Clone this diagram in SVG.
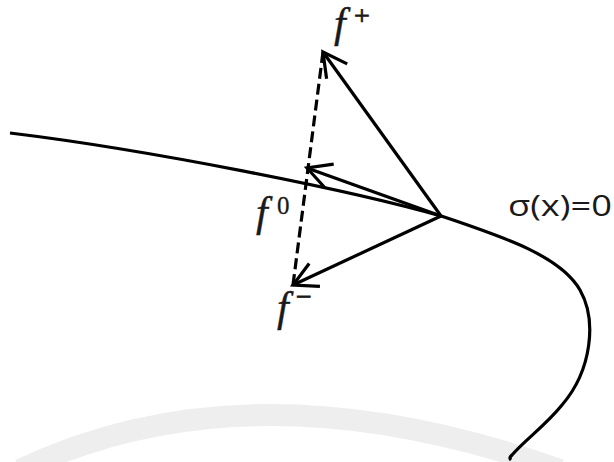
<svg xmlns="http://www.w3.org/2000/svg" width="614" height="462" viewBox="0 0 614 462">
  <style>
    .ln { fill: none; stroke: #000; stroke-width: 3.2; }
    .dash { fill: none; stroke: #000; stroke-width: 3.2; stroke-dasharray: 11 5; }
    .mf { font-family: "Liberation Serif", "DejaVu Serif", serif; font-style: italic; font-size: 42px; fill: #1a1a1a; stroke: #1a1a1a; stroke-width: 0.4; }
    .sup { font-family: "Liberation Serif", "DejaVu Serif", serif; font-size: 25px; fill: #1a1a1a; stroke: #1a1a1a; stroke-width: 0.3; }
    .op { font-family: "Liberation Serif", "DejaVu Serif", serif; font-size: 28px; fill: #1a1a1a; stroke: #1a1a1a; stroke-width: 0.8; }
    .lbl { font-family: "Open Sans", "Liberation Sans", sans-serif; font-size: 30px; fill: #1a1a1a; }
    .wm { fill: none; stroke: #eeeeee; stroke-width: 22; }
  </style>
  <defs>
    <marker id="vhead" markerUnits="userSpaceOnUse" viewBox="-28 -16 32 32" refX="0" refY="0" markerWidth="32" markerHeight="32" orient="auto">
      <path d="M-23.8,-12.7 L0,0 L-23.8,12.7" fill="none" stroke="#000" stroke-width="3.2"/>
    </marker>
  </defs>
  <rect width="614" height="462" fill="#fff"/>
  <g id="watermark">
    <path class="wm" d="M20,470 Q250,360 560,470"/>
  </g>
  <g id="surface">
    <path class="ln" d="M10,133 C150,150 350,190 441,216 C500,236 560,255 580,290 C597,320 592,370 562,405 C546,425 525,440 512,455 C510,457 509,458 511,460"/>
  </g>
  <g id="connectors">
    <line class="dash" x1="323" y1="52" x2="293" y2="285"/>
    <line class="ln" x1="441" y1="216" x2="323" y2="52" marker-end="url(#vhead)"/>
    <line class="ln" x1="441" y1="216" x2="307" y2="168" marker-end="url(#vhead)"/>
    <line class="ln" x1="441" y1="216" x2="293" y2="285" marker-end="url(#vhead)"/>
  </g>
  <g id="fplus">
    <text class="mf" x="334" y="37">f</text>
    <text class="op" x="354" y="25">+</text>
  </g>
  <g id="fzero">
    <text class="mf" x="256" y="226">f</text>
    <text class="sup" x="277" y="214">0</text>
  </g>
  <g id="fminus">
    <text class="mf" x="277" y="321">f</text>
    <text class="op" x="296" y="306">−</text>
  </g>
  <g id="sigma">
    <text class="lbl" x="508" y="216" textLength="104" lengthAdjust="spacingAndGlyphs">σ(x)=0</text>
  </g>
</svg>
